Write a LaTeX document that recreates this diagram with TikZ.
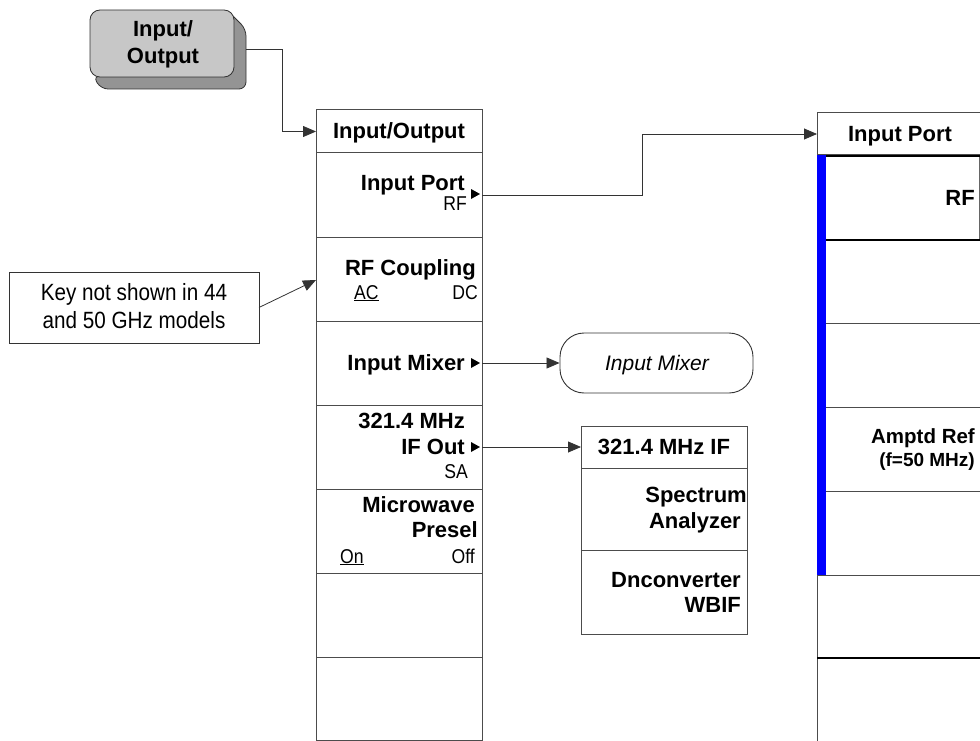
\documentclass[tikz,border=0pt]{standalone}
\usepackage{fontspec}
\setmainfont{Liberation Sans}
\newfontfamily\cndfont{Liberation Sans}[FakeStretch=0.88]
\usetikzlibrary{arrows.meta,calc}
\begin{document}
\begin{tikzpicture}[x=1pt,y=-1pt,
  cell/.style={draw=black!70, line width=1pt, minimum width=166pt, anchor=north west, inner sep=0pt, outer sep=0pt},
  bl/.style={font=\fontsize{22}{26}\selectfont\bfseries, inner sep=0pt, anchor=base east},
  blc/.style={bl, anchor=base},
  sl/.style={font=\cndfont\fontsize{20}{24}\selectfont, inner sep=0pt, anchor=base east},
  sll/.style={sl, anchor=base west},
  arr/.style={draw=black!80, line width=0.8pt, -{Triangle[length=13pt,width=11pt]}},
  ptr/.style={fill=black}]
\useasboundingbox (0,0) rectangle (980,741);

% ---- hard key button
\draw[fill=black!42, draw=black!80, line width=0.8pt, rounded corners=7]
  (229,12) -- (246,29) -- (246,89) -- (101,89) -- (93,76) -- (229,76) -- cycle;
\node[draw=black!80, line width=0.8pt, fill=black!22, rounded corners=10, minimum width=144pt, minimum height=67pt, inner sep=0pt] (btn) at (162,43.5) {};
\node[font=\fontsize{22}{26}\selectfont\bfseries, inner sep=0pt, anchor=base] (btnt1) at (163,37) {Input/};
\node[font=\fontsize{22}{26}\selectfont\bfseries, inner sep=0pt, anchor=base] (btnt2) at (163,64) {Output};
\coordinate (btnout) at (246,49);

% ---- main menu column
\node[cell, minimum height=43pt] (mhdr) at (316,110) {};
\node[cell, minimum height=84pt] (r1) at (316,153) {};
\node[cell, minimum height=84pt] (r2) at (316,237) {};
\node[cell, minimum height=84pt] (r3) at (316,321) {};
\node[cell, minimum height=84pt] (r4) at (316,405) {};
\node[cell, minimum height=84pt] (r5) at (316,489) {};
\node[cell, minimum height=84pt] (r6) at (316,573) {};
\node[cell, minimum height=83pt] (r7) at (316,657) {};

\node[blc] (mhdrt) at (399,139) {Input/Output};
\node[bl] (r1t) at (465,190) {Input Port};
\node[sl] (r1s) at (467,210) {RF};
\node[bl] (r2t) at (476,275) {RF Coupling};
\node[sll] (r2a) at (354,299) {\underline{AC}};
\node[sl] (r2b) at (478,299) {DC};
\node[bl] (r3t) at (465,370) {Input Mixer};
\node[bl] (r4t1) at (465,428) {321.4 MHz};
\node[bl] (r4t2) at (465,454) {IF Out};
\node[sl] (r4s) at (468,478) {SA};
\node[bl] (r5t1) at (475,512) {Microwave};
\node[bl] (r5t2) at (478,537) {Presel};
\node[sll] (r5a) at (340,563) {\underline{On}};
\node[sl] (r5b) at (475,563) {Off};

\fill[ptr] (471,189) -- (480,194) -- (471,199) -- cycle;
\fill[ptr] (471,358) -- (480,363) -- (471,368) -- cycle;
\fill[ptr] (471,442) -- (480,447) -- (471,452) -- cycle;

% ---- note
\node[draw=black!80, line width=0.9pt, minimum width=250pt, minimum height=71pt, anchor=north west, inner sep=0pt, outer sep=0pt] (note) at (9,272) {};
\node[font=\cndfont\fontsize{23.5}{28}\selectfont, inner sep=0pt, anchor=base] (note1) at (134,300) {Key not shown in 44};
\node[font=\cndfont\fontsize{23.5}{28}\selectfont, inner sep=0pt, anchor=base] (note2) at (134,328) {and 50 GHz models};
\coordinate (notetip) at (316,280);
\draw[arr] (note.east) -- (notetip);

% ---- input mixer
\node[draw=black!80, line width=0.9pt, rounded corners=24pt, minimum width=193pt, minimum height=60pt, inner sep=0pt] (mix) at (656.5,363) {};
\node[font=\fontsize{21}{25}\selectfont\itshape, inner sep=0pt, anchor=base] (mixt) at (657,370) {Input Mixer};

% ---- 321.4 MHz IF menu
\node[cell, minimum height=42pt] (ifhdr) at (581,426) {};
\node[cell, minimum height=82pt] (if1) at (581,468) {};
\node[cell, minimum height=84pt] (if2) at (581,550) {};
\node[blc] (ifhdrt) at (664,454) {321.4 MHz IF};
\node[bl] (if1a) at (747,502) {Spectrum};
\node[bl] (if1b) at (741,528) {Analyzer};
\node[bl] (if2a) at (741,587) {Dnconverter};
\node[bl] (if2b) at (741,612) {WBIF};

% ---- Input Port menu (right)
\node[cell, minimum height=42pt] (rhdr) at (817,113) {};
\node[cell, minimum height=85pt] (rr1) at (817,155) {};
\node[cell, minimum height=83pt] (rr2) at (817,240) {};
\node[cell, minimum height=84pt] (rr3) at (817,323) {};
\node[cell, minimum height=84pt] (rr4) at (817,407) {};
\node[cell, minimum height=84pt] (rr5) at (817,491) {};
\node[cell, minimum height=83pt] (rr6) at (817,575) {};
\node[cell, minimum height=90pt] (rr7) at (817,658) {};
\fill[blue] (817,155) rectangle (826,575);
\draw[black!60, line width=1pt] (979,156) -- (979,240);
\draw[black, line width=2pt] (826,156) -- (980,156);
\draw[black, line width=2pt] (826,240) -- (980,240);
\draw[black, line width=1.6pt] (817,658) -- (980,658);
\node[blc] (rhdrt) at (900,142) {Input Port};
\node[bl] (rr1t) at (975,205) {RF};
\node[bl, font=\fontsize{20.5}{25}\selectfont\bfseries] (rr4t1) at (975,443) {Amptd Ref};
\node[bl, font=\fontsize{19}{22}\selectfont\bfseries] (rr4t2) at (975,466) {(f=50 MHz)};

% ---- connectors
\draw[arr] (btnout) -- (282,49) |- (mhdr.west);
\draw[arr] (r1.east) -- (642,195) |- (rhdr.west);
\draw[arr] (r3.east) -- (mix.west);
\draw[arr] (r4.east) -- (ifhdr.west);
\end{tikzpicture}
\end{document}
